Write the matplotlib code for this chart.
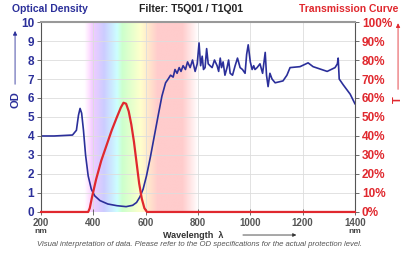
import numpy as np
import matplotlib
matplotlib.use("Agg")
import matplotlib.pyplot as plt

# ---- data ----
od_wl = [200, 250, 320, 335, 343, 349, 355, 362, 370, 380, 392, 405, 425, 455, 490, 525, 550, 565, 578, 590,
         603, 618, 633, 648, 662, 676, 686, 695, 705, 712, 720, 728, 735, 743, 752, 760, 770, 779, 789, 797,
         804, 810, 816, 821, 827, 833, 839, 846, 854, 863, 873, 879, 885, 890, 896, 903, 911, 917, 923, 932,
         942, 951, 961, 970, 980, 986, 992, 1000, 1007, 1013, 1018, 1026, 1037, 1047, 1057, 1062, 1068, 1075,
         1083, 1095, 1110, 1125, 1140, 1152, 1190, 1221, 1240, 1294, 1324, 1333, 1336, 1340, 1355, 1382, 1400]
od_val = [4.0, 4.0, 4.05, 4.3, 5.1, 5.45, 5.2, 4.3, 3.0, 1.9, 1.2, 0.85, 0.6, 0.42, 0.33, 0.28, 0.35, 0.5, 0.8, 1.2,
          1.9, 2.9, 4.0, 5.1, 6.1, 6.8, 7.0, 7.2, 7.1, 7.5, 7.3, 7.6, 7.4, 7.7, 7.5, 7.9, 7.6, 8.0, 7.4, 7.8,
          8.9, 7.7, 8.2, 7.5, 7.6, 8.6, 7.8, 7.7, 7.6, 8.0, 7.7, 7.4, 8.1, 7.6, 7.9, 7.2, 7.6, 8.0, 7.3, 7.2,
          7.7, 8.1, 7.6, 7.5, 7.3, 8.3, 8.8, 7.9, 7.5, 7.7, 7.5, 7.6, 7.8, 7.3, 8.4, 7.2, 6.6, 7.3,
          7.0, 6.8, 6.85, 6.9, 7.2, 7.6, 7.65, 7.85, 7.65, 7.4, 7.6, 7.8, 8.1, 7.0, 6.7, 6.2, 5.7]

t_wl = [200, 380, 386, 395, 410, 430, 450, 470, 490, 505, 515, 525, 535, 545, 555, 565, 575, 585, 595, 605, 1400]
t_val = [0, 0, 2, 8, 17, 27, 35, 43, 50, 55, 57.5, 57, 53, 46, 37, 26, 15, 7, 2, 0, 0]

x_ticks = [200, 400, 600, 800, 1000, 1200, 1400]
od_ticks = list(range(0, 11))
t_ticks = list(range(0, 101, 10))

BLUE = "#2b2f9a"
RED = "#e0282e"

def wl_rgb(w):
    if w < 440:
        r, g, b = -(w - 440) / 60, 0.0, 1.0
    elif w < 490:
        r, g, b = 0.0, (w - 440) / 50, 1.0
    elif w < 510:
        r, g, b = 0.0, 1.0, -(w - 510) / 20
    elif w < 580:
        r, g, b = (w - 510) / 70, 1.0, 0.0
    elif w < 645:
        r, g, b = 1.0, -(w - 645) / 65, 0.0
    else:
        r, g, b = 1.0, 0.0, 0.0
    return np.array([r, g, b])

fig = plt.figure(figsize=(4.07, 2.56), dpi=100)
ax = fig.add_axes([0.101, 0.172, 0.771, 0.742])

# spectrum band
ws = np.linspace(360, 810, 450)
img = np.ones((1, len(ws), 3))
for i, w in enumerate(ws):
    a = 0.2
    if w < 395:
        a *= max(0, (w - 365) / 30)
    if w > 740:
        a *= max(0, (800 - w) / 60)
    img[0, i] = (1 - a) * np.ones(3) + a * wl_rgb(min(max(w, 380), 780))
ax.imshow(img, extent=[360, 810, 0, 10], aspect="auto", zorder=0, interpolation="bilinear")

ax.set_xlim(200, 1400)
ax.set_ylim(0, 10)
ax.grid(True, color="#dddddd", linewidth=0.6, zorder=1)
ax.set_axisbelow(True)

ax.plot(od_wl, od_val, color=BLUE, lw=1.2, zorder=4)

ax2 = ax.twinx()
ax2.set_ylim(0, 100)
ax2.plot(t_wl, t_val, color=RED, lw=1.6, zorder=3, clip_on=False)

ff = "Liberation Sans"
ax.set_xticks(x_ticks)
ax.set_xticklabels([str(v) for v in x_ticks], fontsize=7, color="#555555", family=ff, fontweight="bold")
ax.set_yticks(od_ticks)
ax.set_yticklabels([str(v) for v in od_ticks], fontsize=8.5, color=BLUE, family=ff, fontweight="bold")
ax2.set_yticks(t_ticks)
ax2.set_yticklabels([f"{v}%" for v in t_ticks], fontsize=8.5, color=RED, family=ff, fontweight="bold")
for a_ in (ax, ax2):
    a_.tick_params(length=3, width=0.6, color="#555555", pad=2)
ax.tick_params(axis="x", direction="inout", length=4)

for s in ("left", "right", "top", "bottom"):
    ax.spines[s].set_visible(False)
    ax2.spines[s].set_visible(False)
ax2.spines["left"].set_visible(True)
ax2.spines["left"].set_color("#555555")
ax2.spines["right"].set_visible(True)
ax2.spines["right"].set_color("#555555")
ax2.spines["top"].set_visible(True)
ax2.spines["top"].set_color("#999999")
ax2.spines["top"].set_linewidth(1.5)

fig.text(0.03, 0.965, "Optical Density", color=BLUE, fontsize=7.5, fontweight="bold", family=ff, va="center")
fig.text(0.47, 0.965, "Filter: T5Q01 / T1Q01", color="#222222", fontsize=7.5, fontweight="bold", family=ff, va="center", ha="center")
fig.text(0.978, 0.965, "Transmission Curve", color=RED, fontsize=7.5, fontweight="bold", family=ff, va="center", ha="right")

# axis titles with arrows
fig.text(0.037, 0.61, "OD", color=BLUE, fontsize=8, fontweight="bold", family=ff, rotation=90, va="center", ha="center")
fig.add_artist(matplotlib.patches.FancyArrowPatch((0.037, 0.66), (0.037, 0.89), transform=fig.transFigure,
               arrowstyle="-|>", mutation_scale=6, color=BLUE, lw=0.6))
fig.text(0.978, 0.61, "T", color=RED, fontsize=8, fontweight="bold", family=ff, rotation=90, va="center", ha="center")
fig.add_artist(matplotlib.patches.FancyArrowPatch((0.978, 0.64), (0.978, 0.92), transform=fig.transFigure,
               arrowstyle="-|>", mutation_scale=6, color=RED, lw=0.6))

fig.text(0.40, 0.082, "Wavelength  λ", color="#333333", fontsize=6.5, fontweight="bold", family=ff, va="center")
fig.add_artist(matplotlib.patches.FancyArrowPatch((0.59, 0.082), (0.735, 0.082), transform=fig.transFigure,
               arrowstyle="-|>", mutation_scale=5, color="#333333", lw=0.6))
fig.text(0.101, 0.094, "nm", color="#444444", fontsize=6, fontweight="bold", family=ff, ha="center", va="center")
fig.text(0.872, 0.094, "nm", color="#444444", fontsize=6, fontweight="bold", family=ff, ha="center", va="center")

fig.text(0.49, 0.045, "Visual interpretation of data. Please refer to the OD specifications for the actual protection level.",
         color="#555555", fontsize=5.6, style="italic", family=ff, ha="center", va="center")

fig.savefig("out.png", dpi=100)
